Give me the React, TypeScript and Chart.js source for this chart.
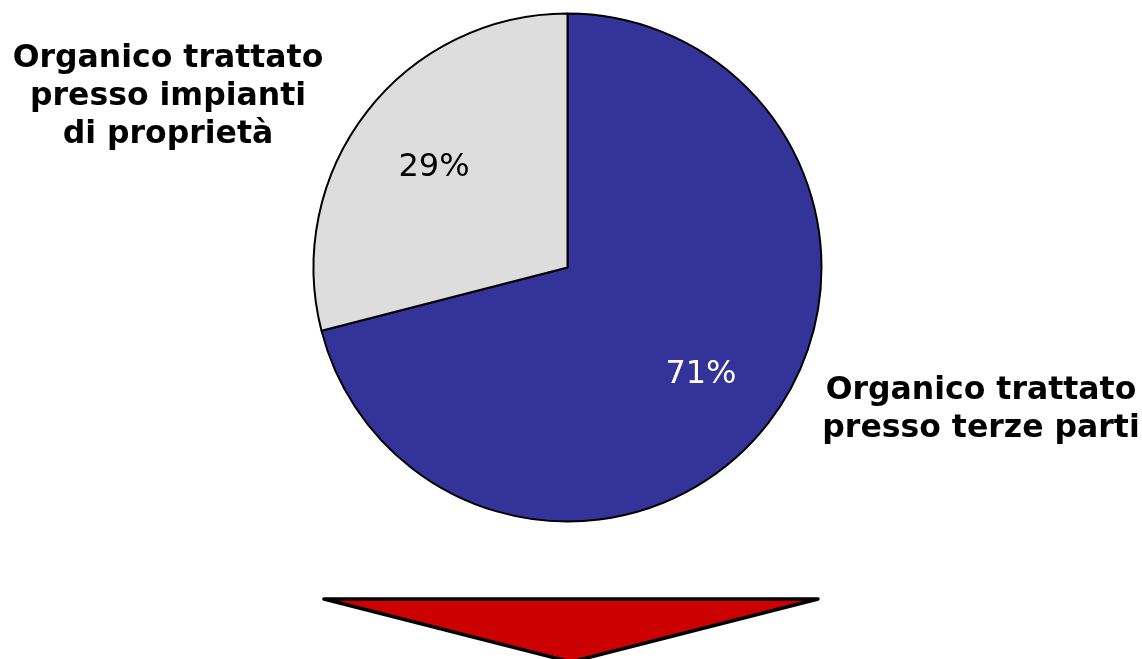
import { useEffect, useRef } from "react";
import { Chart, registerables } from "chart.js";

Chart.register(...registerables);

// Share of organic waste by treatment route (percent)
const categories = [
  "Organico trattato presso terze parti",
  "Organico trattato presso impianti di proprietà",
];
const shares = [71, 29];
const sliceColors = ["#333399", "#DDDDDD"];
const valueTextColors = ["#FFFFFF", "#000000"];
const categoryLines = [
  ["Organico trattato", "presso terze parti"],
  ["Organico trattato", "presso impianti", "di proprietà"],
];

const FONT = '"DejaVu Sans", Verdana, sans-serif';

// Where each category caption block sits (centre x, first baseline y)
const captionAnchors = [
  { x: 981, y: 399 },
  { x: 168, y: 67 },
];

const sliceLabels = {
  id: "sliceLabels",
  afterDatasetsDraw(chart: Chart) {
    const ctx = chart.ctx;
    const meta = chart.getDatasetMeta(0);
    const total = shares.reduce((a, b) => a + b, 0);
    ctx.save();
    ctx.textAlign = "center";
    ctx.textBaseline = "alphabetic";
    ctx.font = `normal 32px ${FONT}`;
    meta.data.forEach((el: any, i: number) => {
      const { x, y, startAngle, endAngle, outerRadius } = el.getProps(
        ["x", "y", "startAngle", "endAngle", "outerRadius"],
        true
      );
      const mid = (startAngle + endAngle) / 2;
      const r = outerRadius * 0.665;
      const pct = Math.round((shares[i] / total) * 100) + "%";
      ctx.fillStyle = valueTextColors[i];
      ctx.fillText(pct, x + Math.cos(mid) * r, y + Math.sin(mid) * r + 12);
    });

    ctx.fillStyle = "#000000";
    ctx.font = `bold 31.5px ${FONT}`;
    categoryLines.forEach((lines, i) => {
      const a = captionAnchors[i];
      lines.forEach((line, j) => {
        ctx.fillText(line, a.x, a.y + j * 38);
      });
    });
    ctx.restore();
  },
};

// Downward arrow head below the pie
const arrowHead = {
  id: "arrowHead",
  afterDraw(chart: Chart) {
    const ctx = chart.ctx;
    ctx.save();
    ctx.beginPath();
    ctx.moveTo(324, 599);
    ctx.lineTo(818, 599);
    ctx.lineTo(571, 662);
    ctx.closePath();
    ctx.fillStyle = "#CC0000";
    ctx.fill();
    ctx.lineWidth = 3.5;
    ctx.lineJoin = "round";
    ctx.strokeStyle = "#000000";
    ctx.stroke();
    ctx.restore();
  },
};

export default function App() {
  const canvasRef = useRef<HTMLCanvasElement>(null);

  useEffect(() => {
    const canvas = canvasRef.current;
    if (!canvas) return;
    const chart = new Chart(canvas, {
      type: "pie",
      data: {
        labels: categories,
        datasets: [
          {
            data: shares,
            backgroundColor: sliceColors,
            borderColor: "#000000",
            borderWidth: 2,
            radius: 254,
          } as any,
        ],
      },
      options: {
        responsive: false,
        animation: false,
        events: [],
        layout: { padding: { left: 313, right: 320, top: 13, bottom: 137 } },
        plugins: {
          legend: { display: false },
          tooltip: { enabled: false },
        },
      },
      plugins: [sliceLabels, arrowHead],
    });
    return () => chart.destroy();
  }, []);

  return (
    <div
      style={{
        position: "absolute",
        left: 0,
        top: 0,
        width: 1142,
        height: 659,
        background: "#FFFFFF",
        overflow: "hidden",
      }}
    >
      <canvas ref={canvasRef} width={1142} height={659} style={{ display: "block" }} />
    </div>
  );
}
